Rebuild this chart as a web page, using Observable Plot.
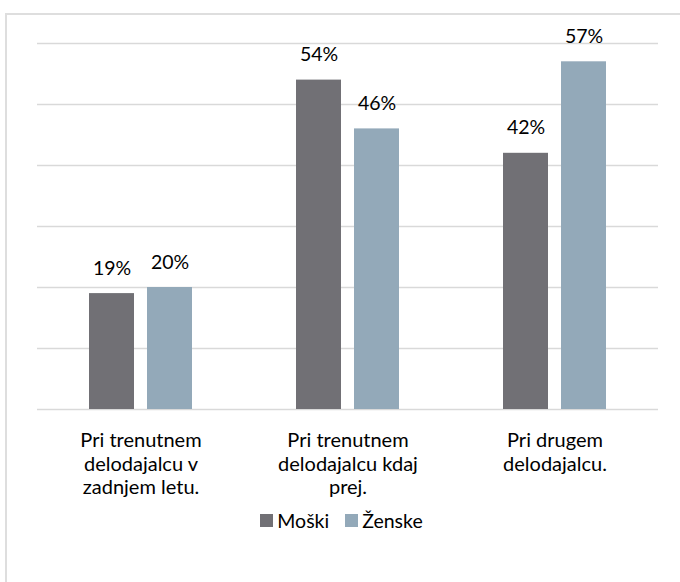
<!DOCTYPE html>
<html>
<head>
<meta charset="utf-8">
<script src="https://cdn.jsdelivr.net/npm/d3@7"></script>
<script src="https://cdn.jsdelivr.net/npm/@observablehq/plot@0.6"></script>
<style>
  html, body { margin: 0; padding: 0; background: #fff; }
  #wrap { position: relative; width: 680px; height: 582px; overflow: hidden; font-family: Lato, "Open Sans", sans-serif; }
  #frame { position: absolute; left: 5px; top: 13px; width: 700px; height: 600px; border: 2px solid #dedede; box-sizing: border-box; }
  #chart { position: absolute; left: 0; top: 0; }
  #legend { position: absolute; left: 0; width: 680px; top: 509px; display: flex; justify-content: center; font-size: 19.5px; color: #000; padding-left: 3px; box-sizing: border-box; }
  .item { display: flex; align-items: center; margin: 0 8px; }
  .sw { width: 13px; height: 13px; margin-right: 4px; display: inline-block; }
</style>
</head>
<body>
<div id="wrap">
  <div id="frame"></div>
  <div id="chart"></div>
  <div id="legend"></div>
</div>
<script>
const categories = ["Pri trenutnem\ndelodajalcu v\nzadnjem letu.", "Pri trenutnem\ndelodajalcu kdaj\nprej.", "Pri drugem\ndelodajalcu."];
const series = ["Moški", "Ženske"];
const moski = [19, 54, 42];
const zenske = [20, 46, 57];
const colors = ["#717075", "#93a9b9"];
const yTicks = [0, 10, 20, 30, 40, 50, 60];

const data = [];
categories.forEach((c, i) => {
  data.push({cat: c, sex: series[0], value: moski[i]});
  data.push({cat: c, sex: series[1], value: zenske[i]});
});

const chart = Plot.plot({
  width: 680,
  height: 582,
  marginLeft: 36,
  marginRight: 21,
  marginTop: 43,
  marginBottom: 173,
  style: {fontFamily: "Lato, 'Open Sans', sans-serif", fontSize: "19.5px", background: "transparent", overflow: "visible"},
  fx: {domain: categories, padding: 0, axis: null},
  x: {domain: series, paddingInner: 0.22, paddingOuter: 0.87, axis: null},
  y: {domain: [0, 60], axis: null},
  color: {domain: series, range: colors},
  marks: [
    Plot.ruleY(yTicks, {stroke: "#d9d9d9", strokeWidth: 1.5}),
    Plot.barY(data, {fx: "cat", x: "sex", y: "value", fill: "sex"}),
    Plot.text(data, {fx: "cat", x: "sex", y: "value", text: d => `${d.value}%`, lineAnchor: "bottom", dy: -19, fill: "#000", fontSize: 19.5}),
    Plot.text(categories, {fx: d => d, text: d => d, frameAnchor: "bottom", lineAnchor: "top", dy: 21, lineHeight: 1.17, fill: "#000", fontSize: 20})
  ]
});
document.getElementById("chart").appendChild(chart);

const legend = document.getElementById("legend");
series.forEach((s, i) => {
  const item = document.createElement("div");
  item.className = "item";
  const sw = document.createElement("span");
  sw.className = "sw";
  sw.style.background = colors[i];
  item.appendChild(sw);
  const t = document.createElement("span");
  t.textContent = s;
  item.appendChild(t);
  legend.appendChild(item);
});
</script>
</body>
</html>
